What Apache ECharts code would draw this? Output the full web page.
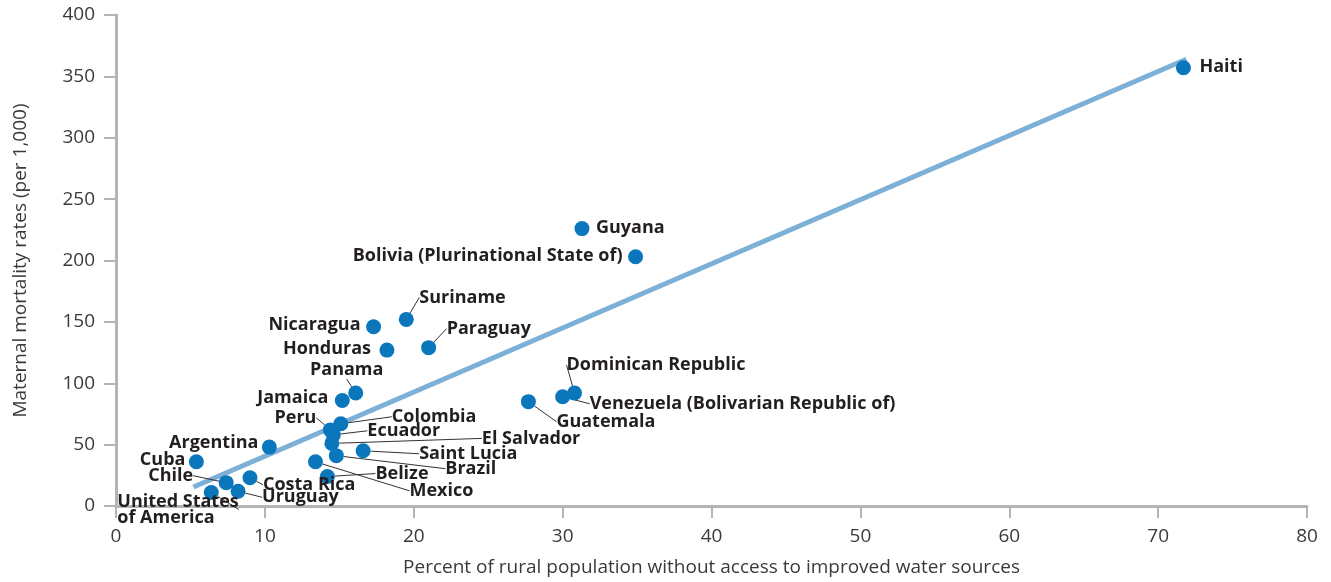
<!DOCTYPE html>
<html>
<head>
<meta charset="utf-8">
<script src="https://cdn.jsdelivr.net/npm/echarts@6/dist/echarts.min.js"></script>
<style>
html,body{margin:0;padding:0;background:#fff;}
#chart{width:1331px;height:582px;}
</style>
</head>
<body>
<div id="chart"></div>
<script>
// ---- Data ----
var countries = ['Haiti','Guyana','Bolivia (Plurinational State of)','Suriname','Nicaragua','Honduras','Paraguay','Panama','Jamaica','Peru','Colombia','Ecuador','El Salvador','Saint Lucia','Brazil','Belize','Mexico','Argentina','Cuba','Chile','Costa Rica','Uruguay','United States\nof America','Dominican Republic','Venezuela (Bolivarian Republic of)','Guatemala'];
var ruralNoWater = [71.7, 31.3, 34.9, 19.5, 17.3, 18.2, 21.0, 16.1, 15.2, 14.4, 15.1, 14.6, 14.5, 16.6, 14.8, 14.2, 13.4, 10.3, 5.4, 7.4, 9.0, 8.2, 6.4, 30.8, 30.0, 27.7];
var maternalMortality = [357, 226, 203, 152, 146, 127, 129, 92, 86, 62, 67, 58, 51, 45, 41, 24, 36, 48, 36, 19, 23, 12, 11, 92, 89, 85];
var trendX = [5.2, 71.9];
var trendY = [15.5, 364];
var xTicks = [0, 10, 20, 30, 40, 50, 60, 70, 80];
var yTicks = [0, 50, 100, 150, 200, 250, 300, 350, 400];

// ---- Label placement (styling): [align, dx, dy, showLeaderLine] ----
var labelPlacement = {
  'Haiti': ['left', 16, -1, false],
  'Guyana': ['left', 14, -1, false],
  'Bolivia (Plurinational State of)': ['right', -13, -1, false],
  'Suriname': ['left', 13, -22, true],
  'Nicaragua': ['right', -13, -2, false],
  'Honduras': ['right', -16, -1, false],
  'Paraguay': ['left', 18, -19, true],
  'Panama': ['center', -9, -23, true],
  'Jamaica': ['right', -14, -3, false],
  'Peru': ['right', -14, -12, true],
  'Colombia': ['left', 51, -7, true],
  'Ecuador': ['left', 34, -4, true],
  'El Salvador': ['left', 150, -5, true],
  'Saint Lucia': ['left', 56, 3, true],
  'Brazil': ['left', 109, 13, true],
  'Belize': ['left', 48, -3, true],
  'Mexico': ['left', 94, 29, true],
  'Argentina': ['right', -11, -4, false],
  'Cuba': ['right', -11, -2, false],
  'Chile': ['right', -33, -7, true],
  'Costa Rica': ['left', 13, 7, true],
  'Uruguay': ['left', 24, 6, true],
  'United States\nof America': ['left', -94, 17, true],
  'Dominican Republic': ['left', -8, -28, true],
  'Venezuela (Bolivarian Republic of)': ['left', 27, 7, true],
  'Guatemala': ['left', 28, 20, true]
};

var scatterData = countries.map(function (name, i) {
  var p = labelPlacement[name];
  return {
    name: name,
    value: [ruralNoWater[i], maternalMortality[i]],
    label: { align: p[0] },
    labelLine: { show: p[3] }
  };
});

var trendData = trendX.map(function (x, i) { return [x, trendY[i]]; });

var axisFont = { fontFamily: 'Open Sans', fontSize: 19, color: '#3a3a3a' };

var chart = echarts.init(document.getElementById('chart'), null, { renderer: 'canvas' });
chart.setOption({
  animation: false,
  backgroundColor: '#ffffff',
  grid: { left: 116, right: 24, top: 15, bottom: 76, containLabel: false, outerBoundsMode: 'none' },
  xAxis: {
    type: 'value', min: 0, max: 80, interval: 10,
    name: 'Percent of rural population without access to improved water sources',
    nameLocation: 'middle', nameGap: 52,
    nameTextStyle: { fontFamily: 'Open Sans', fontSize: 19, color: '#3a3a3a' },
    axisLine: { show: true, lineStyle: { color: '#b4b4b4', width: 3 } },
    axisTick: { show: true, length: 12, lineStyle: { color: '#b4b4b4', width: 2 } },
    axisLabel: Object.assign({ margin: 21, formatter: function (v) { return xTicks.indexOf(v) >= 0 ? String(v) : ''; } }, axisFont),
    splitLine: { show: false }
  },
  yAxis: {
    type: 'value', min: 0, max: 400, interval: 50,
    name: 'Maternal mortality rates (per 1,000)',
    nameLocation: 'middle', nameGap: 86, nameRotate: 90,
    nameTextStyle: { fontFamily: 'Open Sans', fontSize: 19, color: '#3a3a3a' },
    axisLine: { show: true, lineStyle: { color: '#b4b4b4', width: 3 } },
    axisTick: { show: true, length: 12, lineStyle: { color: '#b4b4b4', width: 2 } },
    axisLabel: Object.assign({ margin: 21, formatter: function (v) { return yTicks.indexOf(v) >= 0 ? String(v) : ''; } }, axisFont),
    splitLine: { show: false }
  },
  series: [
    {
      type: 'line',
      data: trendData,
      symbol: 'none',
      z: 1,
      lineStyle: { color: '#7db0d6', width: 5 },
      silent: true
    },
    {
      type: 'scatter',
      data: scatterData,
      symbolSize: 15,
      z: 3,
      itemStyle: { color: '#0a77bd', opacity: 1 },
      label: {
        show: true,
        position: 'inside',
        verticalAlign: 'middle',
        formatter: '{b}',
        fontFamily: 'Open Sans',
        fontWeight: 'bold',
        fontSize: 18,
        lineHeight: 16,
        color: '#231f20'
      },
      labelLine: {
        show: true,
        lineStyle: { color: '#333333', width: 1 }
      },
      labelLayout: function (params) {
        var p = labelPlacement[countries[params.dataIndex]];
        return { dx: p[1], dy: p[2] };
      }
    }
  ]
});
</script>
</body>
</html>
